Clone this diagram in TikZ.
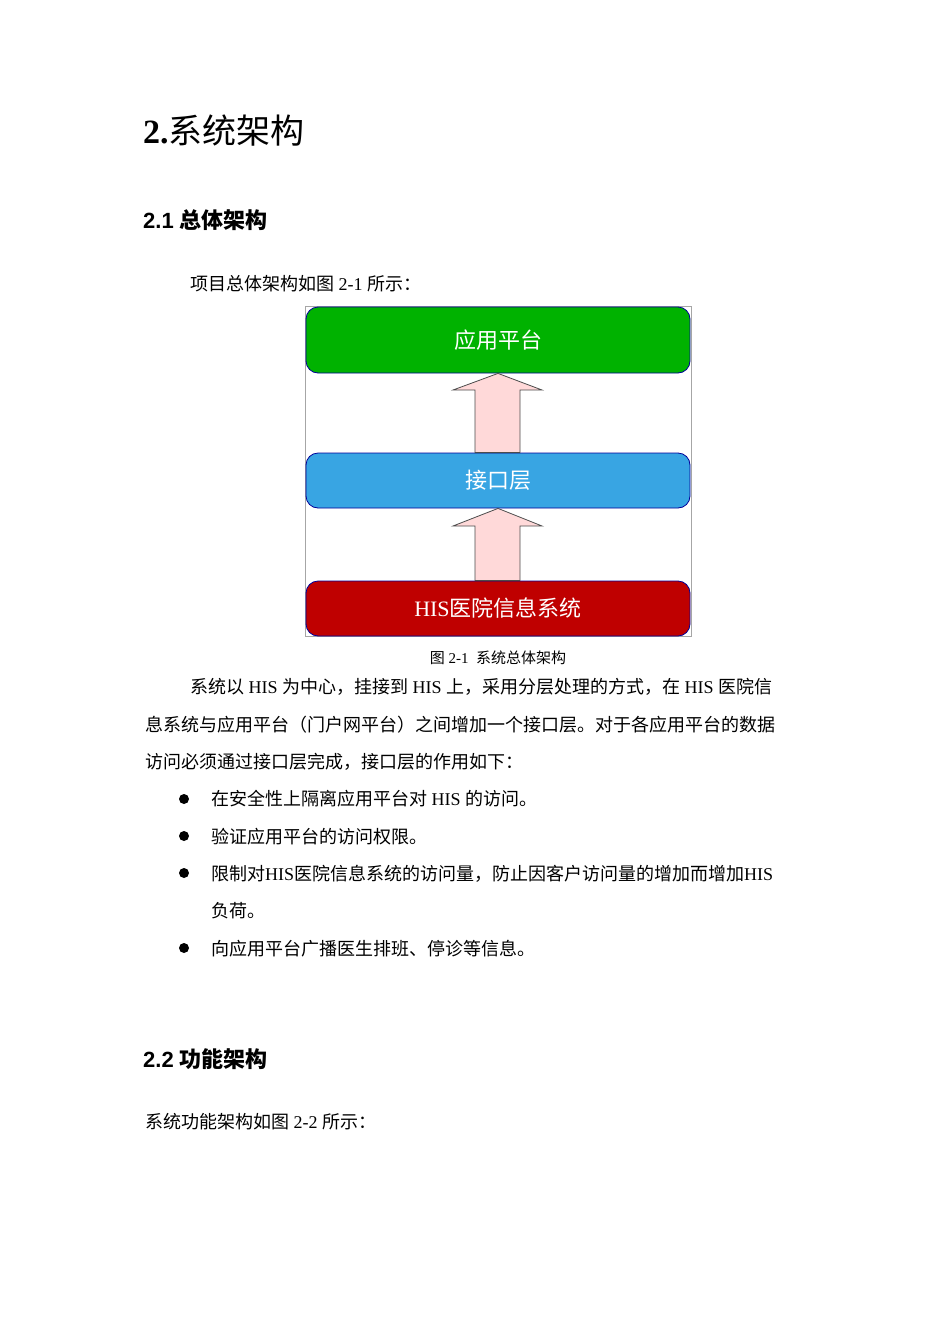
\documentclass[tikz,border=0pt]{standalone}
\usepackage{fontspec}
\setmainfont{Liberation Serif}
\newfontfamily\zhf{Noto Sans CJK SC}
\newfontfamily\hsans{Liberation Sans}
\newcommand\zh[1]{{\zhf #1}}
\begin{document}
\begin{tikzpicture}[x=1pt,y=-1pt,
  txt/.style={anchor=base west,inner sep=0pt,font=\fontsize{18}{22}\selectfont},
  layer/.style={rounded corners=12pt,draw=blue!60!black,line width=0.8pt,minimum width=384pt,text=white,font=\zhf\fontsize{22}{26}\selectfont},
  uparrow/.style={fill=red!15!white,draw=black!70,line width=0.8pt}]
\useasboundingbox[fill=white] (0,0) rectangle (950,1344);
\node[anchor=base west,inner sep=0pt,font=\fontsize{34}{40}\selectfont\bfseries] (t) at (143,143) {2.\zh{\mdseries 系统架构}};
\node[anchor=base west,inner sep=0pt,font=\hsans\bfseries\fontsize{22}{26}\selectfont] (s1) at (143,228) {2.1 \zh{总体架构}};
\node[txt] (p0) at (190,290) {\zh{项目总体架构如图} 2-1 \zh{所示：}};
\node[draw=black!35,line width=0.6pt,minimum width=386pt,minimum height=330pt,inner sep=0pt] (frame) at (498,471) {};
\node[layer,fill=green!70!black,minimum height=66pt] (app) at (498,340) {应用平台};
\node[layer,fill=cyan!80!blue!80,minimum height=55pt] (ifc) at (498,480.5) {接口层};
\node[layer,fill=red!75!black,minimum height=55pt] (his) at (498,608.5) {\rmfamily HIS\zhf 医院信息系统};
\draw[uparrow] (his.north -| 475,0) -- (475,526) -- (453,526) -- (ifc.south) -- (542,526) -- (520,526) -- (his.north -| 520,0) -- cycle;
\draw[uparrow] (ifc.north -| 475,0) -- (475,390) -- (453,390) -- (app.south) -- (542,390) -- (520,390) -- (ifc.north -| 520,0) -- cycle;
\node[anchor=base,inner sep=0pt,font=\fontsize{15}{18}\selectfont] (cap) at (498,663) {\zh{图} 2-1\ \ \zh{系统总体架构}};
\node[txt] (l1) at (190,693) {\zh{系统以} HIS \zh{为中心，挂接到} HIS \zh{上，采用分层处理的方式，在} HIS \zh{医院信}};
\node[txt] (l2) at (145,731) {\zh{息系统与应用平台（门户网平台）之间增加一个接口层。对于各应用平台的数据}};
\node[txt] (l3) at (145,768) {\zh{访问必须通过接口层完成，接口层的作用如下：}};
\foreach \y/\n in {799/b1,836/b2,873/b3,948/b4}{\fill (184,\y) circle (5pt) coordinate (\n);}
\node[txt] (i1) at (211,805) {\zh{在安全性上隔离应用平台对} HIS \zh{的访问。}};
\node[txt] (i2) at (211,843) {\zh{验证应用平台的访问权限。}};
\node[txt] (i3) at (211,880) {\zh{限制对}HIS\zh{医院信息系统的访问量，防止因客户访问量的增加而增加}HIS};
\node[txt] (i3b) at (211,917) {\zh{负荷。}};
\node[txt] (i4) at (211,955) {\zh{向应用平台广播医生排班、停诊等信息。}};
\node[anchor=base west,inner sep=0pt,font=\hsans\bfseries\fontsize{22}{26}\selectfont] (s2) at (143,1067) {2.2 \zh{功能架构}};
\node[txt] (p2) at (145,1128) {\zh{系统功能架构如图} 2-2 \zh{所示：}};
\end{tikzpicture}
\end{document}
